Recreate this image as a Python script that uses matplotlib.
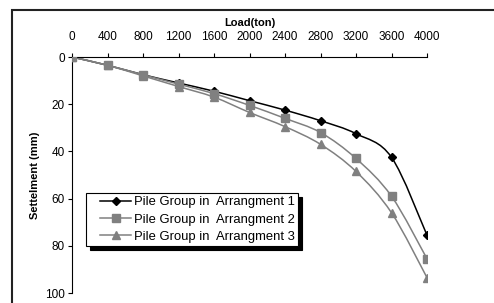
import numpy as np
import matplotlib
matplotlib.use("Agg")
import matplotlib.pyplot as plt
from matplotlib.path import Path
from matplotlib.lines import Line2D
from matplotlib.legend_handler import HandlerLine2D
import matplotlib.patches as patches

plt.rcParams['font.family'] = ['Liberation Sans', 'DejaVu Sans']

load = [0, 400, 800, 1200, 1600, 2000, 2400, 2800, 3200, 3600, 4000]
arr1 = [0, 3.5, 7.5, 11, 14.5, 18.5, 22.5, 27, 32.5, 42.5, 75.5]
arr2 = [0, 3.5, 7.5, 11.5, 15.5, 20.5, 26, 32, 43, 59, 85.5]
arr3 = [0, 3.5, 8, 12.5, 17, 23.5, 29.5, 37, 48.5, 66, 93.5]
labels = ['Pile Group in  Arrangment 1', 'Pile Group in  Arrangment 2',
          'Pile Group in  Arrangment 3']
xticks = [0, 400, 800, 1200, 1600, 2000, 2400, 2800, 3200, 3600, 4000]
yticks = [0, 20, 40, 60, 80, 100]


def smooth_path(x, y):
    # excel-like smoothed line: cardinal spline as cubic bezier
    x = np.asarray(x, float)
    y = np.asarray(y, float)
    n = len(x)
    verts = [(x[0], y[0])]
    codes = [Path.MOVETO]
    for i in range(n - 1):
        p0 = i - 1 if i > 0 else i
        p3 = i + 2 if i + 2 < n else i + 1
        c1 = (x[i] + (x[i + 1] - x[p0]) / 6, y[i] + (y[i + 1] - y[p0]) / 6)
        c2 = (x[i + 1] - (x[p3] - x[i]) / 6, y[i + 1] - (y[p3] - y[i]) / 6)
        verts += [c1, c2, (x[i + 1], y[i + 1])]
        codes += [Path.CURVE4] * 3
    return Path(verts, codes)


fig = plt.figure(figsize=(4.94, 3.03), dpi=100)
ax = fig.add_axes([72 / 494, 1 - 293 / 303, 355 / 494, 236 / 303])

series = [(arr1, 'black', 'D', 4.2), (arr2, '#808080', 's', 5.5),
          (arr3, '#808080', '^', 6)]
for (vals, col, mk, ms), lab in zip(series, labels):
    ax.add_patch(patches.PathPatch(smooth_path(load, vals), facecolor='none',
                                   edgecolor=col, lw=1.1, zorder=2))
    ax.plot(load, vals, linestyle='none', marker=mk, ms=ms, color=col, zorder=3)
    ax.plot([], [], color=col, lw=1.1, marker=mk, ms=ms, label=lab)

ax.set_xlim(0, 4000)
ax.set_ylim(100, 0)
ax.set_xticks(xticks)
ax.set_yticks(yticks)
ax.xaxis.tick_top()
ax.xaxis.set_label_position('top')
ax.tick_params(labelsize=8.5, length=3, width=0.8, pad=2)
ax.tick_params(axis='x', pad=7)
ax.set_xlabel('Load(ton)', fontsize=8, fontweight='bold', labelpad=4)
ax.set_ylabel('Settelment (mm)', fontsize=8, fontweight='bold', labelpad=4)
for s in ['right', 'bottom']:
    ax.spines[s].set_visible(False)
for s in ['left', 'top']:
    ax.spines[s].set_linewidth(0.8)
ax.margins(0)

leg = ax.legend(loc='upper left', bbox_to_anchor=(0.039, 0.424), borderaxespad=0,
                fontsize=9.4, fancybox=False, edgecolor='black', framealpha=1,
                shadow={'color': 'black', 'alpha': 1, 'ox': 3, 'oy': -3},
                handlelength=3.2, handletextpad=0.25, labelspacing=0.4,
                borderpad=0.25,
                handler_map={Line2D: HandlerLine2D(xpad=0.85)})
leg.get_frame().set_linewidth(0.8)

frame = patches.Rectangle((12 / 494, -0.2), 2, 1.2 - 10 / 303, transform=fig.transFigure,
                          fill=False, edgecolor='#222222', lw=1.5)
fig.patches.append(frame)

fig.savefig('out.png', dpi=100)
